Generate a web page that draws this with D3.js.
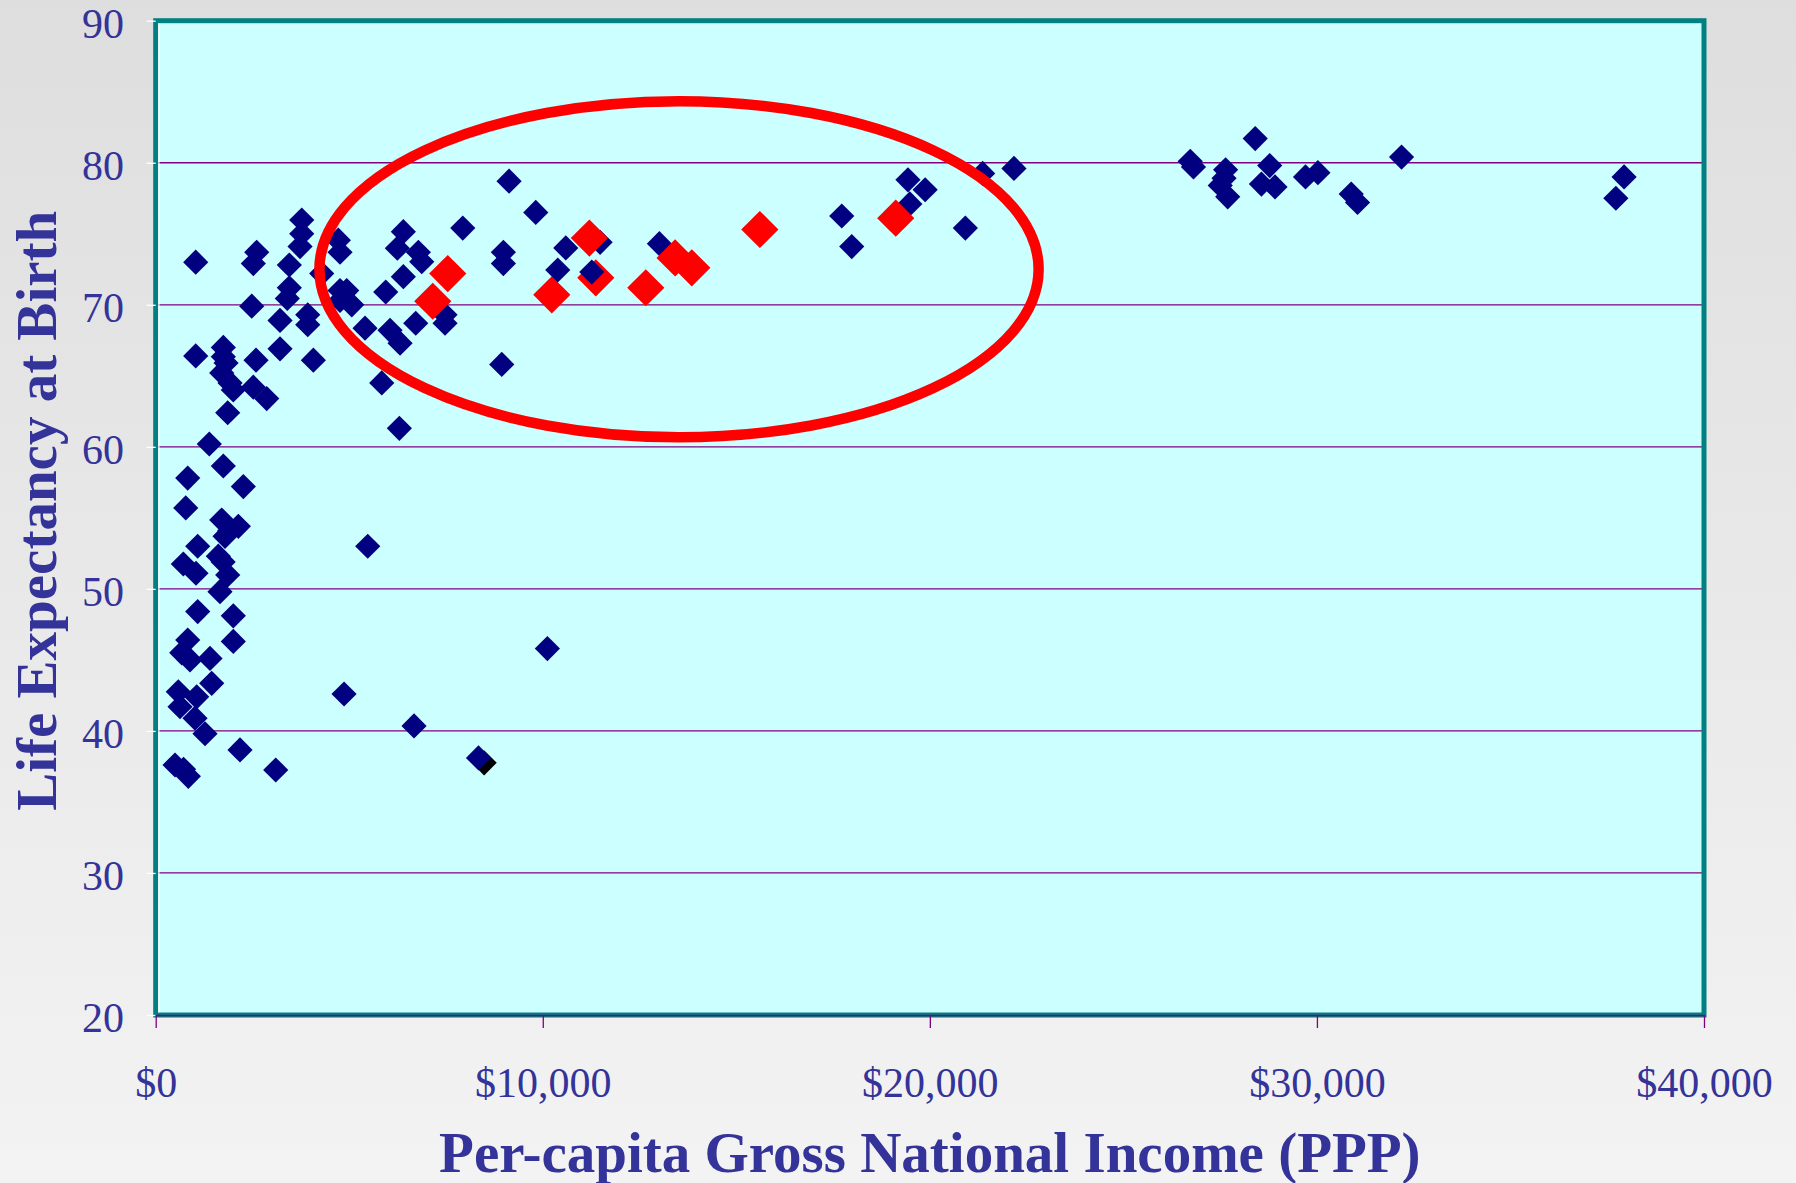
<!DOCTYPE html>
<html>
<head>
<meta charset="utf-8">
<script src="https://cdn.jsdelivr.net/npm/d3@7"></script>
<style>
  html, body { margin: 0; padding: 0; background: #e8e8e8; }
  svg { display: block; }
</style>
</head>
<body>
<div id="chart"></div>
<script>
const incomeTicks = [0, 10000, 20000, 30000, 40000];
const lifeTicks = [20, 30, 40, 50, 60, 70, 80, 90];

// [per-capita GNI (PPP, $), life expectancy at birth (years)]
const countryPoints = [
  [499, 37.6], [843, 36.8], [720, 37.3], [584, 42.75], [628, 41.7], [1016, 40.9], [1059, 42.4],
  [1274, 39.8], [1447, 43.35], [2178, 38.66], [3101, 37.25], [672, 45.5], [886, 45.0],
  [1403, 45.1], [827, 46.4], [2005, 46.3], [1085, 48.4], [2005, 48.1], [1661, 49.8],
  [714, 51.75], [1041, 51.1], [1860, 50.98], [1618, 52.3], [1742, 51.9], [1085, 53.0],
  [1791, 53.7], [1910, 54.1], [2135, 54.4], [1705, 54.85], [776, 55.7], [827, 57.8],
  [2264, 57.2], [1747, 58.65], [1385, 60.2], [1860, 62.4], [2868, 63.4], [2005, 64.0],
  [1920, 64.5], [2522, 64.2], [1705, 65.2], [1817, 65.9], [1747, 66.35], [1747, 67.0],
  [1034, 66.4], [2592, 66.1], [3212, 66.9], [4073, 66.1], [5840, 64.5], [6295, 61.3],
  [8940, 65.8], [5478, 53.0], [4866, 42.6], [6674, 40.35], [8339, 38.1], [10119, 45.8],
  [1034, 73.0], [2610, 73.7], [2522, 72.9], [3773, 75.97], [3773, 75.0], [3729, 74.1],
  [3452, 72.8], [4719, 74.55], [4762, 73.7], [4289, 72.2], [3452, 71.2], [3400, 70.45],
  [2481, 69.9], [3212, 68.9], [3928, 69.3], [3928, 68.6], [4762, 71.0], [4935, 71.0],
  [5065, 70.0], [4762, 70.3], [5408, 68.35], [5943, 70.9], [6398, 75.15], [6243, 73.98],
  [6786, 73.7], [6873, 73.03], [6398, 71.98], [6054, 68.2], [6313, 67.3], [6718, 68.7],
  [7475, 69.3], [7475, 68.7], [7933, 75.4], [9819, 76.5], [8982, 73.7], [8982, 72.9],
  [10594, 74.0], [11481, 74.4], [13013, 74.3], [9129, 78.7],
  [17724, 76.25], [17982, 74.1], [19434, 78.8], [19879, 78.1], [19483, 77.1], [20917, 75.4],
  [21364, 79.25], [22173, 79.6], [26727, 80.1], [26811, 79.7], [28406, 81.7], [27641, 79.5],
  [27502, 78.4], [27695, 77.6], [27600, 78.9], [28780, 79.8], [28566, 78.5], [28917, 78.3],
  [29705, 79.0], [30025, 79.3], [30886, 77.8], [31049, 77.2], [32186, 80.4], [37935, 79.0],
  [37723, 77.5],
];

// countries drawn over the highlighted group
const countryPointsFront = [[10387, 72.45], [11266, 72.3]];

const highlightPoints = [
  [7158, 70.25], [7545, 72.2], [10233, 70.7], [11204, 74.7], [11370, 71.9],
  [12661, 71.2], [13419, 73.3], [13850, 72.6], [15607, 75.3], [19119, 76.1],
];

const shadowPoints = [[8485, 37.75]];

// ring around the highlighted group, in data units
const ringCenter = [13520, 72.5];
const ringRadius = [9290, 11.83];

function diamondPath(r) {
  return `M0,${-r}L${r},0L0,${r}L${-r},0Z`;
}

function drawDiamonds(group, points, cls, size, fill, x, y) {
  group
    .selectAll(`path.${cls}`)
    .data(points)
    .join("path")
    .attr("class", cls)
    .attr("d", diamondPath(size))
    .attr("transform", (d) => `translate(${x(d[0])},${y(d[1])})`)
    .attr("fill", fill);
}

function renderChart(root) {
  const width = 1796;
  const height = 1183;
  const plot = { left: 155.7, right: 1704, top: 20.7, bottom: 1015 };
  const textColor = "#333399";
  const font = "'Liberation Serif', 'Times New Roman', serif";

  const svg = d3.select(root).append("svg").attr("width", width).attr("height", height);

  const x = d3.scaleLinear().domain([0, 40000]).range([plot.left, plot.right]);
  const y = d3.scaleLinear().domain([20, 90]).range([plot.bottom, plot.top]);

  const grad = svg
    .append("defs")
    .append("linearGradient")
    .attr("id", "bg")
    .attr("x1", 0)
    .attr("y1", 0)
    .attr("x2", 0)
    .attr("y2", 1);
  grad.append("stop").attr("offset", "0%").attr("stop-color", "#dedede");
  grad.append("stop").attr("offset", "100%").attr("stop-color", "#f3f3f3");

  svg.append("rect").attr("width", width).attr("height", height).attr("fill", "url(#bg)");

  svg
    .append("rect")
    .attr("x", plot.left)
    .attr("y", plot.top)
    .attr("width", plot.right - plot.left)
    .attr("height", plot.bottom - plot.top)
    .attr("fill", "#ccffff");

  // horizontal gridlines
  svg
    .append("g")
    .selectAll("line")
    .data(lifeTicks.filter((d) => d > 20 && d < 90))
    .join("line")
    .attr("x1", plot.left)
    .attr("x2", plot.right)
    .attr("y1", (d) => y(d))
    .attr("y2", (d) => y(d))
    .attr("stroke", "#800080")
    .attr("stroke-width", 1.3);

  svg
    .append("rect")
    .attr("x", plot.left)
    .attr("y", plot.top)
    .attr("width", plot.right - plot.left)
    .attr("height", plot.bottom - plot.top)
    .attr("fill", "none")
    .attr("stroke", "#008080")
    .attr("stroke-width", 5);

  svg
    .append("line")
    .attr("x1", plot.left + 3.2)
    .attr("x2", plot.left + 3.2)
    .attr("y1", plot.top + 2.5)
    .attr("y2", plot.bottom - 2.5)
    .attr("stroke", "#ffffff")
    .attr("stroke-width", 1.2);

  svg
    .append("g")
    .attr("transform", `translate(${plot.left},0)`)
    .call(d3.axisLeft(y).tickValues(lifeTicks).tickSize(9).tickFormat(d3.format("d")))
    .call((g) => g.select(".domain").remove())
    .call((g) => g.selectAll("line").attr("stroke", "#ffffff").attr("stroke-width", 1.3))
    .call((g) =>
      g
        .selectAll("text")
        .attr("x", -31.7)
        .attr("dy", "0.4em")
        .attr("fill", textColor)
        .attr("font-size", 42)
        .attr("font-family", font),
    );

  svg
    .append("g")
    .attr("transform", `translate(0,${plot.bottom})`)
    .call(
      d3
        .axisBottom(x)
        .tickValues(incomeTicks)
        .tickSize(13)
        .tickSizeOuter(0)
        .tickFormat((d) => "$" + d3.format(",")(d)),
    )
    .call((g) => g.select(".domain").attr("stroke", "#800080").attr("stroke-width", 1.3))
    .call((g) => g.selectAll("line").attr("stroke", "#800080").attr("stroke-width", 1.3))
    .call((g) =>
      g
        .selectAll("text")
        .attr("y", 81.7)
        .attr("dy", 0)
        .attr("fill", textColor)
        .attr("font-size", 42)
        .attr("font-family", font),
    );

  const marks = svg.append("g");
  drawDiamonds(marks, shadowPoints, "shadow", 12.6, "#000000", x, y);
  drawDiamonds(marks, countryPoints, "country", 12.6, "#000080", x, y);
  drawDiamonds(marks, highlightPoints, "highlight", 18.6, "#ff0000", x, y);
  drawDiamonds(marks, countryPointsFront, "country-front", 12.6, "#000080", x, y);

  svg
    .append("ellipse")
    .attr("cx", x(ringCenter[0]))
    .attr("cy", y(ringCenter[1]))
    .attr("rx", x(ringRadius[0]) - x(0))
    .attr("ry", y(0) - y(ringRadius[1]))
    .attr("fill", "none")
    .attr("stroke", "#ff0000")
    .attr("stroke-width", 10.5);

  svg
    .append("text")
    .attr("x", (plot.left + plot.right) / 2)
    .attr("y", 1172)
    .attr("text-anchor", "middle")
    .attr("fill", textColor)
    .attr("font-size", 57)
    .attr("font-weight", "bold")
    .attr("font-family", font)
    .text("Per-capita Gross National Income (PPP)");

  svg
    .append("text")
    .attr("transform", "translate(55.5,510.8) rotate(-90)")
    .attr("text-anchor", "middle")
    .attr("fill", textColor)
    .attr("font-size", 57)
    .attr("font-weight", "bold")
    .attr("font-family", font)
    .text("Life Expectancy at Birth");
}

renderChart(document.getElementById("chart"));
</script>
</body>
</html>
